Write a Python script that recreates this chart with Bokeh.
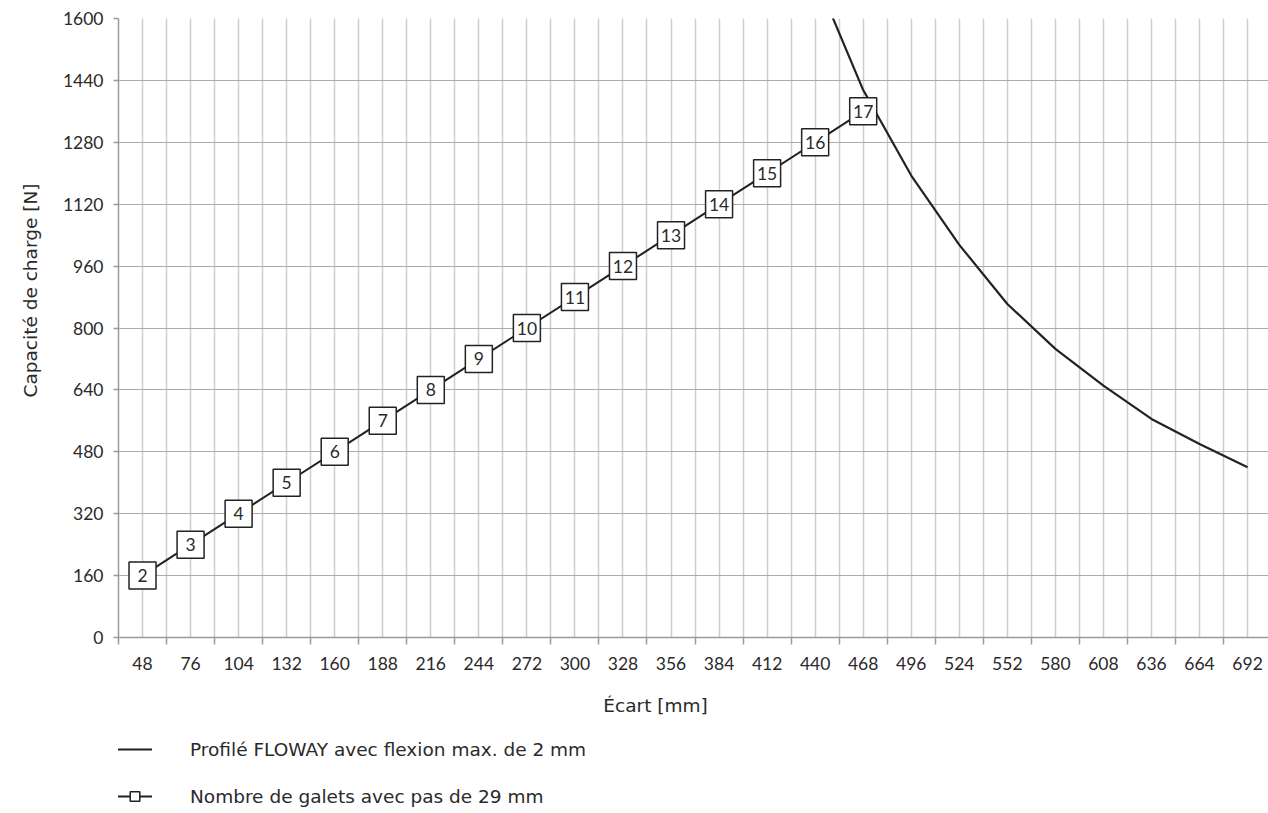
from math import pi

from bokeh.plotting import figure
from bokeh.layouts import column, row
from bokeh.models import (Range1d, FixedTicker, Legend, LegendItem, Label,
                          ColumnDataSource)
from bokeh.embed import file_html
from bokeh.resources import INLINE
from bokeh.core.properties import value

# Axis ticks
ecart_labels = [48, 76, 104, 132, 160, 188, 216, 244, 272, 300, 328, 356,
                384, 412, 440, 468, 496, 524, 552, 580, 608, 636, 664, 692]
ecart_marks = [34, 62, 90, 118, 146, 174, 202, 230, 258, 286, 314, 342, 370,
               398, 426, 454, 482, 510, 538, 566, 594, 622, 650, 678, 706]
charge_ticks = [0, 160, 320, 480, 640, 800, 960, 1120, 1280, 1440, 1600]

# Number of rollers per spacing
galets_nombre = [2, 3, 4, 5, 6, 7, 8, 9, 10, 11, 12, 13, 14, 15, 16, 17]
galets_ecart = [48, 76, 104, 132, 160, 188, 216, 244, 272, 300, 328, 356,
                384, 412, 440, 468]
galets_charge = [160, 240, 320, 400, 480, 560, 640, 720, 800, 880, 960, 1040,
                 1120, 1200, 1280, 1360]

# Profile load limit for 2 mm max. deflection
flexion_ecart = [440, 468, 496, 524, 552, 580, 608, 636, 664, 692]
flexion_charge = [1710, 1415, 1194, 1015, 862, 746, 651, 565, 500, 440]

NUM_FONT = "Lato"
NUM_SIZE = "17.5px"
TXT_FONT = "DejaVu Sans"
TXT_SIZE = "18.5px"
TEXT = "#2a2a2a"
INK = "#222222"
AXIS = "#9a9a9a"


def blank(fig, keep_grid=True):
    fig.outline_line_color = None
    fig.background_fill_color = "white"
    fig.border_fill_color = "white"
    if not keep_grid:
        fig.grid.visible = False


# ---- main chart -----------------------------------------------------------
p = figure(width=1209, height=679,
           x_range=Range1d(34, 704.2), y_range=Range1d(0, 1600),
           output_backend="svg", toolbar_location=None,
           min_border_left=59, min_border_right=0,
           min_border_top=18, min_border_bottom=42)
blank(p)

xa = p.xaxis[0]
xa.ticker = FixedTicker(ticks=ecart_labels, minor_ticks=ecart_marks)
xa.major_tick_line_color = None
xa.major_tick_out = 7
xa.major_tick_in = 0
xa.minor_tick_out = 7
xa.minor_tick_in = 0
xa.minor_tick_line_color = AXIS
xa.minor_tick_line_width = 1.5
xa.axis_line_color = AXIS
xa.axis_line_width = 1.5
xa.major_label_text_font = NUM_FONT
xa.major_label_text_font_size = NUM_SIZE
xa.major_label_text_color = TEXT
xa.major_label_standoff = 12

ya = p.yaxis[0]
ya.ticker = FixedTicker(ticks=charge_ticks)
ya.major_tick_out = 5
ya.major_tick_in = 0
ya.major_tick_line_color = AXIS
ya.major_tick_line_width = 1.5
ya.minor_tick_line_color = None
ya.axis_line_color = AXIS
ya.axis_line_width = 1.5
ya.major_label_text_font = NUM_FONT
ya.major_label_text_font_size = NUM_SIZE
ya.major_label_text_color = TEXT
ya.major_label_standoff = 10

p.xgrid.ticker = FixedTicker(ticks=sorted(ecart_labels + ecart_marks))
p.xgrid.grid_line_color = "#cdcdcd"
p.xgrid.grid_line_width = 1.5
p.ygrid.ticker = FixedTicker(ticks=charge_ticks)
p.ygrid.grid_line_color = "#ababab"
p.ygrid.grid_line_width = 1

p.line(flexion_ecart, flexion_charge, line_color=INK, line_width=2.2)

src = ColumnDataSource(dict(x=galets_ecart, y=galets_charge,
                            n=[str(v) for v in galets_nombre]))
p.line("x", "y", source=src, line_color=INK, line_width=2)
p.scatter("x", "y", source=src, marker="square", size=27,
          fill_color="white", line_color=INK, line_width=1.5)
p.text("x", "y", text="n", source=src, text_align="center",
       text_baseline="middle", text_font=value(NUM_FONT),
       text_font_size=NUM_SIZE, text_color=TEXT)

# ---- y axis title strip (frame aligned with the chart frame) --------------
p_ytitle = figure(width=59, height=679, x_range=Range1d(0, 1),
                  y_range=Range1d(0, 1), output_backend="svg",
                  toolbar_location=None, x_axis_location=None,
                  y_axis_location=None, min_border=0)
blank(p_ytitle, keep_grid=False)
p_ytitle.add_layout(Label(x=30, y=347, x_units="screen", y_units="screen",
                          text="Capacité de charge [N]", angle=pi / 2,
                          text_align="center", text_baseline="middle",
                          text_font=TXT_FONT, text_font_size=TXT_SIZE,
                          text_color=TEXT))

# ---- x axis title and legend strip ----------------------------------------
# The y range here is (0, 1), so the series drawn below stay out of view and
# only serve as legend keys.
p_bottom = figure(width=1268, height=134, x_range=p.x_range,
                  y_range=Range1d(0, 1), output_backend="svg",
                  toolbar_location=None, x_axis_location=None,
                  y_axis_location=None, min_border=0,
                  min_border_left=118, min_border_right=0)
blank(p_bottom, keep_grid=False)
p_bottom.add_layout(Label(x=347, y=108, x_units="data", y_units="screen",
                          text="Écart [mm]", text_align="center",
                          text_baseline="alphabetic", text_font=TXT_FONT,
                          text_font_size=TXT_SIZE, text_color=TEXT))

key_flex = p_bottom.line(flexion_ecart, flexion_charge, line_color=INK,
                         line_width=2.2)
key_line = p_bottom.line(galets_ecart, galets_charge, line_color=INK,
                         line_width=2)
key_box = p_bottom.scatter(galets_ecart, galets_charge, marker="square",
                           size=27, fill_color="white", line_color=INK,
                           line_width=1.5)

legend = Legend(items=[
    LegendItem(label="Profilé FLOWAY avec flexion max. de 2 mm", renderers=[key_flex]),
    LegendItem(label="Nombre de galets avec pas de 29 mm", renderers=[key_line, key_box]),
], location=(-1, 5))
legend.padding = 0
legend.margin = 0
legend.border_line_color = None
legend.background_fill_alpha = 0
legend.glyph_width = 35
legend.glyph_height = 24
legend.label_height = 24
legend.label_standoff = 38
legend.spacing = 23
legend.label_text_font = TXT_FONT
legend.label_text_font_size = TXT_SIZE
legend.label_text_color = TEXT
p_bottom.add_layout(legend)

layout = column(row(p_ytitle, p), p_bottom)
open("out.html", "w").write(file_html(layout, INLINE))
